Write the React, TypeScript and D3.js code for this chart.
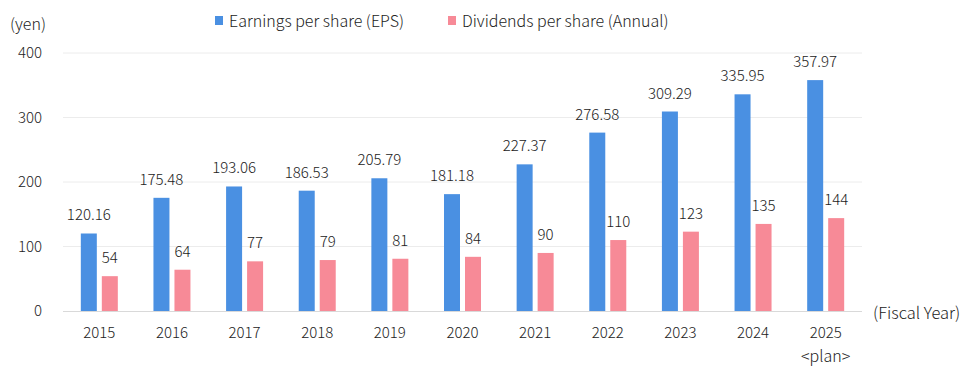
import React from "react";
import * as d3 from "d3";

const years = ["2015", "2016", "2017", "2018", "2019", "2020", "2021", "2022", "2023", "2024", "2025"];
const eps = [120.16, 175.48, 193.06, 186.53, 205.79, 181.18, 227.37, 276.58, 309.29, 335.95, 357.97];
const dps = [54, 64, 77, 79, 81, 84, 90, 110, 123, 135, 144];
const yTicks = [0, 100, 200, 300, 400];
const epsLabels = ["120.16", "175.48", "193.06", "186.53", "205.79", "181.18", "227.37", "276.58", "309.29", "335.95", "357.97"];

const W = 979, H = 378;
const left = 63, right = 862, top = 53, bottom = 311;
const BLUE = "#4a90e2";
const PINK = "#f78a97";
const FONT = "'Noto Sans CJK JP', 'Noto Sans', sans-serif";
const TXT = "#222";

export default function App() {
  const x = d3.scaleBand<string>().domain(years).range([left, right]).padding(0);
  const y = d3.scaleLinear().domain([0, 400]).range([bottom, top]);
  const barW = 16;
  const gap = 5;
  return (
    <svg width={W} height={H} style={{ position: "absolute", left: 0, top: 0, fontFamily: FONT, fontWeight: 300 }}>
      <rect width={W} height={H} fill="#fff" />
      {yTicks.filter(t => t > 0).map(t => (
        <line key={t} x1={left} x2={right} y1={y(t)} y2={y(t)} stroke="#ececec" strokeWidth={1} />
      ))}
      {yTicks.map(t => (
        <text key={t} x={42} y={y(t)} dy="0.35em" textAnchor="end" fontSize={15} fill={TXT}>{t}</text>
      ))}
      <text x={28} y={30} textAnchor="middle" fontSize={16} fill={TXT}>(yen)</text>
      {years.map((yr, i) => {
        const c = (x(yr) as number) + x.bandwidth() / 2;
        const bx = c - gap / 2 - barW;
        const px = c + gap / 2;
        return (
          <g key={yr}>
            <rect x={bx} y={y(eps[i])} width={barW} height={bottom - y(eps[i])} fill={BLUE} />
            <rect x={px} y={y(dps[i])} width={barW} height={bottom - y(dps[i])} fill={PINK} />
            <text x={bx + barW / 2} y={y(eps[i]) - 13} textAnchor="middle" fontSize={15} fill={TXT}>{epsLabels[i]}</text>
            <text x={px + barW / 2} y={y(dps[i]) - 13} textAnchor="middle" fontSize={15} fill={TXT}>{dps[i]}</text>
            <text x={c} y={338} textAnchor="middle" fontSize={15} fill={TXT}>{yr}</text>
          </g>
        );
      })}
      <line x1={left} x2={right} y1={bottom + 0.5} y2={bottom + 0.5} stroke="#d9d9d9" strokeWidth={1} />
      <text x={(x("2025") as number) + x.bandwidth() / 2} y={362} textAnchor="middle" fontSize={16} fill={TXT}>&lt;plan&gt;</text>
      <text x={873} y={313} dy="0.35em" fontSize={16.5} fill={TXT}>(Fiscal Year)</text>
      <rect x={215} y={16} width={8} height={9} fill={BLUE} />
      <text x={229} y={21} dy="0.35em" fontSize={16} fill={TXT}>Earnings per share (EPS)</text>
      <rect x={448} y={16} width={8} height={9} fill={PINK} />
      <text x={462} y={21} dy="0.35em" fontSize={16} fill={TXT}>Dividends per share (Annual)</text>
    </svg>
  );
}
